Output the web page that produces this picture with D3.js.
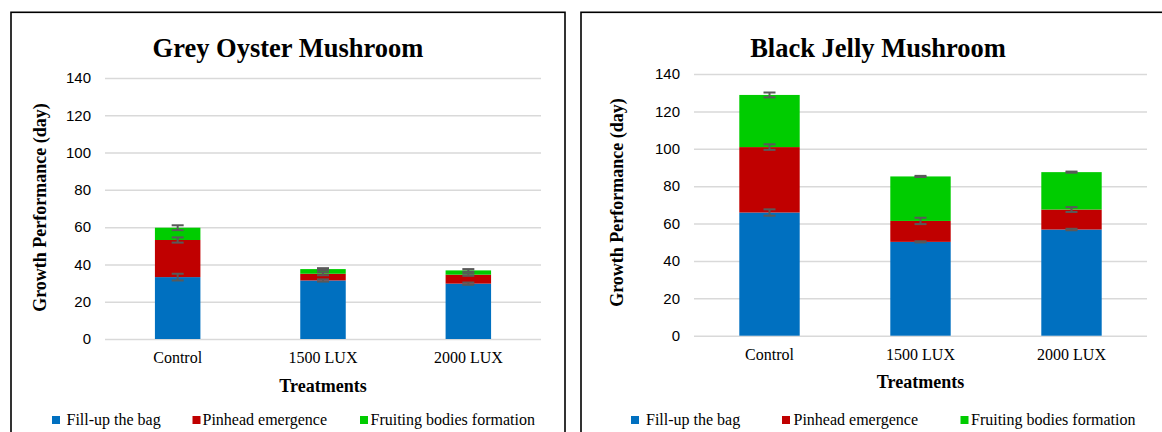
<!DOCTYPE html>
<html>
<head>
<meta charset="utf-8">
<script src="https://cdn.jsdelivr.net/npm/d3@7"></script>
<style>
  body { margin: 0; background: #fff; }
  svg { display: block; }
  .serif { font-family: "Liberation Serif", "Times New Roman", serif; fill: #000; }
  .y-axis text { font-family: "Liberation Sans", Arial, sans-serif; font-size: 15px; fill: #000; }
  .y-axis line { stroke: #d9d9d9; stroke-width: 1.5; }
</style>
</head>
<body>
<svg id="chart" width="1162" height="432"></svg>
<script>
// categories and series
const treatments = ['Control', '1500 LUX', '2000 LUX'];
const stages = ['Fill-up the bag', 'Pinhead emergence', 'Fruiting bodies formation'];
const stageColors = ['#0070c0', '#c00000', '#00cc00'];
const yTicks = [0, 20, 40, 60, 80, 100, 120, 140];

// Grey Oyster Mushroom (days per stage)
const greyFill = [33.2, 31.4, 29.7];
const greyPinhead = [19.9, 3.6, 4.8];
const greyFruiting = [6.6, 2.5, 2.3];
const greyFillErr = [1.8, 0.6, 0.6];
const greyPinheadErr = [1.4, 0.8, 0.6];
const greyFruitingErr = [1.3, 0.5, 0.7];

// Black Jelly Mushroom (days per stage)
const blackFill = [65.9, 50.2, 56.8];
const blackPinhead = [35.0, 11.2, 10.7];
const blackFruiting = [27.9, 23.8, 20.0];
const blackFillErr = [1.7, 0.3, 0.4];
const blackPinheadErr = [1.5, 1.7, 1.3];
const blackFruitingErr = [1.3, 0.3, 0.3];

const svg = d3.select('#chart');

function drawPanel(cfg, series, errors) {
  // panel frame
  svg.append('rect')
      .attr('x', cfg.box[0])
      .attr('y', cfg.box[1])
      .attr('width', cfg.box[2])
      .attr('height', cfg.box[3])
      .attr('fill', 'none')
      .attr('stroke', '#000')
      .attr('stroke-width', 1.6);

  const xScale = d3.scaleBand()
      .domain(treatments)
      .range([cfg.left, cfg.right])
      .paddingInner(cfg.gap)
      .paddingOuter(cfg.gap / 2);

  const yScale = d3.scaleLinear()
      .domain([0, 140])
      .range([cfg.bottom, cfg.top]);

  // gridlines + tick labels
  const yAxis = d3.axisLeft(yScale)
      .tickValues(yTicks)
      .tickSize(-(cfg.right - cfg.left))
      .tickPadding(14);

  svg.append('g')
      .attr('class', 'y-axis')
      .attr('transform', `translate(${cfg.left},0)`)
      .call(yAxis)
      .call(g => g.select('.domain').remove());

  // stack the stages
  const rows = treatments.map((t, i) => {
    const r = {treatment: t};
    stages.forEach((s, j) => { r[s] = series[j][i]; });
    return r;
  });
  const stacked = d3.stack().keys(stages)(rows);

  svg.append('g')
    .selectAll('g')
    .data(stacked)
    .join('g')
      .attr('fill', (d, j) => stageColors[j])
    .selectAll('rect')
    .data(d => d)
    .join('rect')
      .attr('x', d => xScale(d.data.treatment))
      .attr('width', xScale.bandwidth())
      .attr('y', d => yScale(d[1]))
      .attr('height', d => yScale(d[0]) - yScale(d[1]));

  // error bars at the top of each segment
  const errG = svg.append('g')
      .attr('stroke', '#595959')
      .attr('stroke-width', 2);
  stacked.forEach((layer, j) => {
    layer.forEach((d, i) => {
      const cx = xScale(d.data.treatment) + xScale.bandwidth() / 2;
      const e = errors[j][i];
      const y1 = yScale(d[1] + e), y2 = yScale(d[1] - e);
      errG.append('line').attr('x1', cx).attr('x2', cx).attr('y1', y1).attr('y2', y2);
      errG.append('line').attr('x1', cx - 6).attr('x2', cx + 6).attr('y1', y1).attr('y2', y1);
      errG.append('line').attr('x1', cx - 6).attr('x2', cx + 6).attr('y1', y2).attr('y2', y2);
    });
  });

  // category labels
  svg.append('g')
    .selectAll('text')
    .data(treatments)
    .join('text')
      .attr('class', 'serif')
      .attr('x', d => xScale(d) + xScale.bandwidth() / 2)
      .attr('y', cfg.bottom + 24)
      .attr('text-anchor', 'middle')
      .style('font-size', '16px')
      .text(d => d);

  // title
  svg.append('text')
      .attr('class', 'serif')
      .attr('x', cfg.titleX)
      .attr('y', 57)
      .attr('text-anchor', 'middle')
      .style('font-size', '26.5px')
      .style('font-weight', 'bold')
      .text(cfg.title);

  // axis titles
  svg.append('text')
      .attr('class', 'serif')
      .attr('x', (cfg.left + cfg.right) / 2)
      .attr('y', cfg.xTitleY)
      .attr('text-anchor', 'middle')
      .style('font-size', '18px')
      .style('font-weight', 'bold')
      .text('Treatments');

  svg.append('text')
      .attr('class', 'serif')
      .attr('transform', `translate(${cfg.yTitleX},${cfg.yTitleY}) rotate(-90)`)
      .attr('text-anchor', 'middle')
      .style('font-size', '18px')
      .style('font-weight', 'bold')
      .text('Growth Performance (day)');

  // legend
  const leg = svg.append('g');
  stages.forEach((s, j) => {
    leg.append('rect')
        .attr('x', cfg.legendSq[j])
        .attr('y', 416)
        .attr('width', 8)
        .attr('height', 8)
        .attr('fill', stageColors[j]);
    leg.append('text')
        .attr('class', 'serif')
        .attr('x', cfg.legendTx[j])
        .attr('y', 425)
        .style('font-size', '16px')
        .text(s);
  });
}

drawPanel({
  title: 'Grey Oyster Mushroom',
  box: [11, 12.3, 554, 440],
  left: 105, right: 541, top: 78, bottom: 339,
  gap: 0.687,
  titleX: 288,
  xTitleY: 392,
  yTitleX: 46, yTitleY: 207.5,
  legendSq: [52, 192.5, 360],
  legendTx: [66.5, 202.5, 370.5]
}, [greyFill, greyPinhead, greyFruiting], [greyFillErr, greyPinheadErr, greyFruitingErr]);

drawPanel({
  title: 'Black Jelly Mushroom',
  box: [581, 12.3, 620, 440],
  left: 694, right: 1147, top: 74, bottom: 335.7,
  gap: 0.6,
  titleX: 878,
  xTitleY: 388,
  yTitleX: 623, yTitleY: 202.5,
  legendSq: [631, 782, 960.5],
  legendTx: [646, 793.5, 971]
}, [blackFill, blackPinhead, blackFruiting], [blackFillErr, blackPinheadErr, blackFruitingErr]);
</script>
</body>
</html>
